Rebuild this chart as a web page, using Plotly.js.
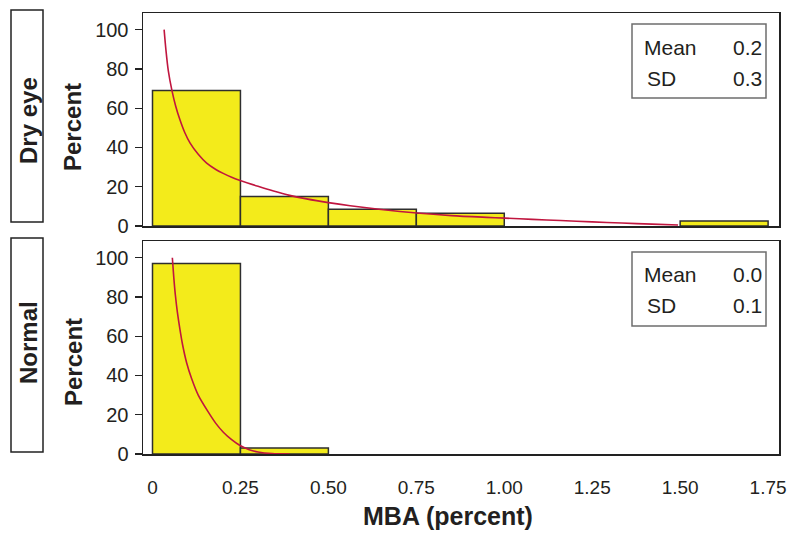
<!DOCTYPE html>
<html>
<head>
<meta charset="utf-8">
<script src="https://cdn.plot.ly/plotly-3.0.1.min.js"></script>
<style>html,body{margin:0;padding:0;background:#fff;}#chart{width:799px;height:539px;}</style>
</head>
<body>
<div id="chart"></div>
<script>
// ---- data ----
const binWidth = 0.25;
const dryEyeBins = [0.125, 0.375, 0.625, 0.875, 1.625];
const dryEyePct = [69, 15, 8.5, 6.5, 2.5];
const normalBins = [0.125, 0.375];
const normalPct = [97, 3];

const dryCurveX = [0.033, 0.038, 0.045, 0.055, 0.066, 0.078, 0.092, 0.107, 0.13, 0.154, 0.18, 0.201, 0.225, 0.249, 0.3, 0.344, 0.39, 0.438, 0.5, 0.562, 0.65, 0.751, 0.85, 0.95, 1.002, 1.08, 1.16, 1.25, 1.334, 1.42, 1.494];
const dryCurveY = [100, 90, 79, 69.2, 61, 54.1, 47.5, 42.2, 36.5, 32, 28.8, 26.8, 24.8, 23.2, 20.2, 17.8, 15.6, 13.8, 11.9, 10.3, 8.4, 6.6, 5.3, 4.4, 4.0, 3.4, 2.8, 2.1, 1.5, 0.95, 0.5];
const normCurveX = [0.0564, 0.0605, 0.065, 0.0706, 0.078, 0.0858, 0.097, 0.1114, 0.13, 0.1588, 0.18, 0.2014, 0.225, 0.2488, 0.275, 0.3, 0.34, 0.39];
const normCurveY = [100, 90, 81, 72.4, 63.5, 55.4, 46.5, 38.3, 30, 21.3, 15.6, 11.1, 7.3, 4.3, 2.2, 1.0, 0.2, 0];

const xTickVals = [0, 0.25, 0.5, 0.75, 1.0, 1.25, 1.5, 1.75];
const xTickText = ["0", "0.25", "0.50", "0.75", "1.00", "1.25", "1.50", "1.75"];
const yTickVals = [0, 20, 40, 60, 80, 100];

const panelLabels = ["Dry eye", "Normal"];
const statNames = ["Mean", "SD"];
const dryStats = ["0.2", "0.3"];
const normStats = ["0.0", "0.1"];
const xTitle = "MBA (percent)";
const yTitle = "Percent";

// ---- styles ----
const FONT = "Arial, 'Liberation Sans', Helvetica, sans-serif";
const TXT = "#231f20";
const barFill = "#f3eb1b";
const barLine = "#2e2e2e";
const curveColor = "#c0163f";

const traces = [
  {type: "bar", x: dryEyeBins, y: dryEyePct, width: binWidth, xaxis: "x", yaxis: "y",
   marker: {color: barFill, line: {color: barLine, width: 1.5}}, hoverinfo: "skip"},
  {type: "scatter", mode: "lines", x: dryCurveX, y: dryCurveY, xaxis: "x", yaxis: "y",
   line: {color: curveColor, width: 1.6, shape: "spline", smoothing: 0.8}, hoverinfo: "skip"},
  {type: "bar", x: normalBins, y: normalPct, width: binWidth, xaxis: "x2", yaxis: "y2",
   marker: {color: barFill, line: {color: barLine, width: 1.5}}, hoverinfo: "skip"},
  {type: "scatter", mode: "lines", x: normCurveX, y: normCurveY, xaxis: "x2", yaxis: "y2",
   line: {color: curveColor, width: 1.6, shape: "spline", smoothing: 0.8}, hoverinfo: "skip"}
];

const xRange = [-0.027, 1.781];
const yRange = [0, 108.5];

function yAxis(domain, anchor) {
  return {
    domain: domain, anchor: anchor, range: yRange, tickvals: yTickVals,
    showline: true, mirror: true, linecolor: "#222", linewidth: 1.5,
    ticks: "outside", ticklen: 7, tickwidth: 1.2, tickcolor: "#222",
    showgrid: false, zeroline: false, ticklabelstandoff: 2,
    tickfont: {family: FONT, size: 20, color: TXT}
  };
}

// paper fractions
const xp = px => (px - 143) / 636;
const yp = py => (454 - py) / 441;

const shapes = [];
const annotations = [];

// left panel label boxes and y titles
[[10, 222, 127], [238, 452, 362]].forEach((b, i) => {
  shapes.push({type: "rect", xref: "paper", yref: "paper", x0: xp(11), x1: xp(43), y0: yp(b[1]), y1: yp(b[0]),
    line: {color: "#222", width: 1.5}, fillcolor: "rgba(0,0,0,0)"});
  annotations.push({xref: "paper", yref: "paper", x: xp(28), y: yp(i === 0 ? 121 : 343), text: panelLabels[i],
    textangle: -90, showarrow: false, xanchor: "center", yanchor: "middle",
    font: {family: FONT, size: 24, color: TXT, weight: "bold"}});
  annotations.push({xref: "paper", yref: "paper", x: xp(73), y: yp(b[2]), text: yTitle,
    textangle: -90, showarrow: false, xanchor: "center", yanchor: "middle",
    font: {family: FONT, size: 24, color: TXT, weight: "bold"}});
});

// x title
annotations.push({xref: "paper", yref: "paper", x: xp(447.5), y: yp(516), text: xTitle,
  showarrow: false, xanchor: "center", yanchor: "middle",
  font: {family: FONT, size: 25, color: TXT, weight: "bold"}});

// stats boxes
[[24, 98, dryStats], [252, 326, normStats]].forEach(b => {
  shapes.push({type: "rect", xref: "paper", yref: "paper", x0: xp(632), x1: xp(766), y0: yp(b[1]), y1: yp(b[0]),
    line: {color: "#6d6d6d", width: 1.5}, fillcolor: "#ffffff"});
  const rows = [b[0] + 23, b[0] + 54];
  statNames.forEach((n, j) => {
    annotations.push({xref: "paper", yref: "paper", x: xp(j === 0 ? 642 : 645), y: yp(rows[j]), text: n,
      showarrow: false, xanchor: "left", yanchor: "middle", font: {family: FONT, size: 21, color: TXT}});
    annotations.push({xref: "paper", yref: "paper", x: xp(764), y: yp(rows[j]), text: b[2][j],
      showarrow: false, xanchor: "right", yanchor: "middle", font: {family: FONT, size: 21, color: TXT}});
  });
});

const layout = {
  width: 799, height: 539,
  margin: {l: 143, r: 20, t: 13, b: 85, pad: 0},
  paper_bgcolor: "#ffffff", plot_bgcolor: "#ffffff",
  showlegend: false, bargap: 0,
  font: {family: FONT, color: TXT},
  xaxis: {domain: [0, 1], anchor: "y", range: xRange, showticklabels: false, ticks: "",
    showline: true, mirror: true, linecolor: "#222", linewidth: 1.5, showgrid: false, zeroline: false},
  yaxis: yAxis([yp(226), 1], "x"),
  xaxis2: {domain: [0, 1], anchor: "y2", range: xRange, tickvals: xTickVals, ticktext: xTickText,
    ticks: "outside", ticklen: 16, tickcolor: "rgba(0,0,0,0)",
    showline: true, mirror: true, linecolor: "#222", linewidth: 1.5, showgrid: false, zeroline: false,
    tickfont: {family: FONT, size: 19, color: TXT}},
  yaxis2: yAxis([0, yp(241)], "x2"),
  shapes: shapes,
  annotations: annotations
};

Plotly.newPlot("chart", traces, layout, {displayModeBar: false, staticPlot: true});
</script>
</body>
</html>
